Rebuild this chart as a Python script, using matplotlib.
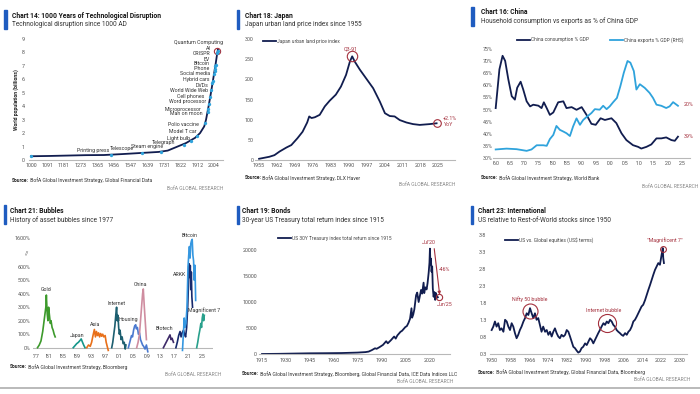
import numpy as np
import matplotlib
matplotlib.use("Agg")
import matplotlib.pyplot as plt
from matplotlib.lines import Line2D
from matplotlib.patches import Rectangle

plt.rcParams['font.family'] = ['Liberation Sans Narrow', 'Roboto', 'DejaVu Sans']

# ---------------- DATA ----------------
# Chart 14: world population (bn) and technologies
pop_years = [1000, 1100, 1200, 1300, 1400, 1500, 1600, 1700, 1750, 1800, 1850, 1900, 1927, 1950, 1960, 1974, 1987, 1999, 2011, 2022, 2025]
pop_values = [0.28, 0.30, 0.33, 0.36, 0.37, 0.44, 0.52, 0.60, 0.70, 0.98, 1.26, 1.65, 2.00, 2.50, 3.00, 4.00, 5.00, 6.00, 7.00, 8.00, 8.20]
tech_names = ['Printing press', 'Telescope', 'Steam engine', 'Telegraph', 'Light bulb', 'Model T car',
              'Polio vaccine', 'Man on moon', 'Microprocessor', 'Word processor', 'Cell phones',
              'World Wide Web', 'DVDs', 'Hybrid cars', 'Social media', 'iPhone', 'Bitcoin', 'EV',
              'CRISPR', 'AI', 'Quantum Computing']
tech_years = [1440, 1608, 1712, 1837, 1879, 1908, 1955, 1969, 1971, 1976, 1983, 1989, 1995, 1997, 2004, 2007, 2009, 2011, 2012, 2022, 2024]
tech_pop = [0.38, 0.52, 0.62, 1.15, 1.45, 1.75, 2.77, 3.60, 3.77, 4.15, 4.70, 5.20, 5.70, 5.90, 6.40, 6.60, 6.80, 7.00, 7.10, 7.95, 8.10]
c14_xticks = [1000, 1091, 1181, 1273, 1365, 1456, 1547, 1639, 1731, 1822, 1912, 2004]
c14_yticks = [0, 1, 2, 3, 4, 5, 6, 7, 8, 9]

# Chart 18: Japan urban land price index
japan_years = [1955, 1959, 1961, 1963, 1965.7, 1967.6, 1970, 1972, 1973.8, 1974.6, 1975.5, 1976.8, 1978.7, 1980.7,
               1982.6, 1985, 1987, 1989, 1990.5, 1991.4, 1992.4, 1994.4, 1997, 1999.6, 2002.2, 2004.2, 2006.1,
               2008, 2010, 2012.6, 2015.2, 2017.8, 2021.7, 2024.4]
japan_index = [3, 8, 12, 21, 31, 37, 54, 70, 93, 108, 104, 106, 112, 133, 147, 162, 182, 211, 244, 257, 244, 224,
               201, 178, 145, 116, 109, 108, 99, 93, 89, 87, 89, 91]
c18_xticks = [1955, 1962, 1969, 1976, 1983, 1990, 1997, 2004, 2011, 2018, 2025]
c18_yticks = [0, 50, 100, 150, 200, 250, 300]

# Chart 16: China consumption (LHS) and exports (RHS), % of GDP
cons_years = [1960, 1961.3, 1962.4, 1963.3, 1964.4, 1965.6, 1966.7, 1967.5, 1968.7, 1969.6, 1970.8, 1972, 1973.1,
              1974.9, 1976, 1976.8, 1977.8, 1978.9, 1980.1, 1981.8, 1983.6, 1984.7, 1986.5, 1988.2, 1990, 1991.7,
              1993.4, 1994.9, 1996.6, 1998.1, 2000.4, 2002.1, 2003.9, 2005.6, 2007.9, 2009.7, 2010.8, 2012.6,
              2014.3, 2016.1, 2017.8, 2019.5, 2021.3, 2022.5, 2023.6]
cons_pct = [50.6, 66.6, 72.2, 70.1, 62.5, 55.5, 54.1, 59.0, 61.5, 58.3, 53.4, 51.3, 52.0, 51.6, 50.6, 53.0, 50.6,
            47.8, 48.8, 53.0, 53.4, 50.6, 51.0, 49.9, 51.0, 47.8, 44.1, 43.7, 46.4, 45.7, 46.4, 44.4, 40.2, 37.4,
            35.3, 34.6, 33.9, 34.6, 35.6, 38.1, 38.1, 38.5, 37.4, 37.1, 38.8]
exp_years = [1960, 1963.8, 1967.3, 1970.8, 1972.5, 1974.3, 1976.6, 1977.8, 1978.9, 1980.1, 1981.2, 1982.4, 1983.6,
             1984.7, 1985.9, 1987, 1988.2, 1989.4, 1990.5, 1991.7, 1993.4, 1994.6, 1996.3, 1997.5, 1998.7, 1999.8,
             2001, 2002.3, 2003.5, 2004.7, 2006, 2007, 2008.2, 2009.1, 2010.3, 2012, 2013.7, 2014.9, 2016.1,
             2017.8, 2019.5, 2020.7, 2021.9, 2023.6]
exp_pct = [4.0, 4.3, 4.1, 3.5, 4.0, 5.5, 5.5, 5.3, 7.7, 9.2, 12.4, 11.0, 10.4, 9.8, 8.8, 12.2, 15.1, 12.8, 14.5,
           15.6, 17.0, 18.4, 18.2, 19.6, 18.4, 19.4, 20.9, 22.4, 26.6, 31.4, 35.6, 35.0, 32.0, 25.4, 27.3, 26.0,
           24.2, 22.4, 20.0, 19.6, 18.8, 19.4, 20.9, 19.6]
c16_xticks = [1960, 1965, 1970, 1975, 1980, 1985, 1990, 1995, 2000, 2005, 2010, 2015, 2020, 2025]
c16_xlabels = ["'60", "'65", "'70", "'75", "'80", "'85", "'90", "'95", "'00", "'05", "'10", "'15", "'20", "'25"]
c16_yticks = [30, 35, 40, 45, 50, 55, 60, 65, 70, 75]

# Chart 21: asset bubbles (% gain)
gold_years = [1977.5, 1978, 1978.5, 1979, 1979.5, 1979.9, 1980.05, 1980.3, 1980.5, 1980.7, 1980.9, 1981.2, 1981.4, 1981.7, 1982, 1982.3, 1982.6]
gold_pct = [0, 20, 50, 120, 220, 300, 390, 250, 200, 300, 250, 180, 200, 150, 130, 100, 80]
japan_b_years = [1987.8, 1988.3, 1988.8, 1989.3, 1989.8, 1990.1, 1990.4, 1990.8, 1991.2]
japan_b_pct = [0, 15, 30, 40, 55, 65, 45, 20, 0]
asia_years = [1991.7, 1992.2, 1992.7, 1993.1, 1993.5, 1993.9, 1994.2, 1994.5, 1994.8, 1995.1, 1995.4, 1995.7, 1996, 1996.3, 1996.6, 1997, 1997.3, 1997.6, 1997.9]
asia_pct = [0, 20, 10, 40, 90, 135, 80, 120, 90, 110, 80, 105, 85, 100, 80, 90, 40, 10, -20]
internet_years = [1998.9, 1999.2, 1999.5, 1999.8, 2000.1, 2000.3, 2000.5, 2000.7, 2000.9, 2001.1, 2001.3, 2001.6, 2001.9, 2002.2, 2002.5, 2002.8, 2003]
internet_pct = [0, 40, 100, 160, 250, 300, 200, 240, 150, 100, 130, 60, 80, 30, 40, -10, 20]
housing_years = [2003.7, 2004, 2004.3, 2004.6, 2004.9, 2005.2, 2005.5, 2005.8, 2006, 2006.3, 2006.6, 2006.9, 2007.2, 2007.5, 2007.8, 2008.1, 2008.5, 2008.9, 2009.3]
housing_pct = [0, 30, 60, 90, 80, 130, 160, 170, 140, 150, 100, 110, 60, 40, 20, 10, -10, 20, -30]
china_b_years = [2006.1, 2006.5, 2006.9, 2007.2, 2007.5, 2007.8, 2008, 2008.3, 2008.6, 2008.9]
china_b_pct = [0, 40, 100, 200, 300, 400, 435, 300, 180, 60]
biotech_years = [2013.8, 2014.2, 2014.6, 2015, 2015.4, 2015.7, 2016, 2016.3, 2016.7]
biotech_pct = [0, 20, 40, 60, 80, 95, 60, 70, 40]
arkk_years = [2017.4, 2017.8, 2018.2, 2018.6, 2018.9, 2019.2, 2019.6, 2019.9, 2020.2, 2020.5, 2020.8, 2021, 2021.1, 2021.25, 2021.4, 2021.55, 2021.7, 2021.85, 2022, 2022.2]
arkk_pct = [0, 40, 90, 120, 80, 110, 130, 100, 80, 150, 300, 450, 620, 700, 520, 640, 430, 560, 380, 300]
bitcoin_years = [2019.3, 2019.6, 2019.8, 2020, 2020.3, 2020.6, 2020.9, 2021.1, 2021.3, 2021.5, 2021.7, 2021.9, 2022.1, 2022.3, 2022.5, 2022.7, 2022.9, 2023.1]
bitcoin_pct = [-20, 120, 220, 150, 180, 300, 600, 1000, 1300, 900, 1400, 1500, 1550, 1000, 800, 500, 650, 350]
mag7_years = [2023.4, 2023.7, 2024, 2024.3, 2024.6, 2024.8, 2025, 2025.2, 2025.4, 2025.6]
mag7_pct = [0, 40, 90, 130, 180, 150, 220, 250, 200, 240]
bubble_names = ['Gold', 'Japan', 'Asia', 'Internet', 'Housing', 'China', 'Biotech', 'ARKK', 'Bitcoin', 'Magnificent 7']
c21_xticks = [1977, 1981, 1985, 1989, 1993, 1997, 2001, 2005, 2009, 2013, 2017, 2021, 2025]
c21_xlabels = ["'77", "'81", "'85", "'89", "'93", "'97", "'01", "'05", "'09", "'13", "'17", "'21", "'25"]
c21_yticks = [0, 100, 200, 300, 400, 500, 600, 1600]

# Chart 19: US 30Y Treasury total return index
bond_years = [1915, 1925, 1935, 1945, 1955, 1965, 1975, 1980, 1982, 1984, 1986, 1987, 1989, 1991, 1993, 1994, 1996,
              1998, 1999, 2000, 2002, 2003, 2005, 2006, 2007, 2008, 2008.9, 2009.3, 2010, 2010.7, 2011.8, 2012.5,
              2013.4, 2014.2, 2014.9, 2015.6, 2016.5, 2016.9, 2017.6, 2018.4, 2019.0, 2019.7, 2020.2, 2020.5,
              2020.8, 2021.1, 2021.5, 2021.9, 2022.3, 2022.8, 2023.3, 2023.8, 2024.3, 2024.8, 2025.45]
bond_index = [60, 90, 140, 190, 210, 240, 330, 420, 520, 800, 1150, 1050, 1400, 1800, 2500, 2100, 2700, 3400, 3000,
              3600, 4300, 4500, 5200, 5400, 6000, 6800, 8800, 7000, 7600, 8600, 11300, 11800, 10000, 11200, 12300,
              11600, 13700, 11700, 12800, 12400, 13600, 15600, 17500, 20200, 17200, 18300, 15800, 16800, 12600,
              11000, 11900, 10400, 11700, 10800, 10900]
c19_xticks = [1915, 1930, 1945, 1960, 1975, 1990, 2005, 2020]
c19_yticks = [0, 5000, 10000, 15000, 20000]

# Chart 23: US vs global equities
us_years = [1950, 1950.7, 1951.4, 1952.1, 1952.8, 1953.5, 1954.2, 1955, 1955.7, 1956.4,
            1957.1, 1957.8, 1958.5, 1959.2, 1959.9, 1960.6, 1961.3, 1962, 1962.7, 1963.5,
            1964.2, 1964.9, 1965.6, 1966.3, 1967, 1967.7, 1968.4, 1969.1, 1969.8, 1970.5,
            1971.2, 1971.9, 1972.7, 1973.4, 1974.1, 1974.8, 1975.5, 1976.2, 1976.9, 1977.6,
            1978.3, 1979, 1979.7, 1980.5, 1981.2, 1981.9, 1982.6, 1983.3, 1984, 1984.7,
            1985.4, 1986.1, 1986.8, 1987.5, 1988.2, 1988.9, 1989.7, 1990.4, 1991.1, 1991.8,
            1992.5, 1993.2, 1993.9, 1994.6, 1995.3, 1996, 1996.7, 1997.5, 1998.2, 1998.9,
            1999.6, 2000.3, 2001, 2001.7, 2002.4, 2003.1, 2003.8, 2004.5, 2005.2, 2005.9,
            2006.7, 2007.4, 2008.1, 2008.8, 2009.5, 2010.2, 2010.9, 2011.6, 2012.3, 2013,
            2013.7, 2014.4, 2015.2, 2015.9, 2016.6, 2017.3, 2018, 2018.7, 2019.4, 2020.1,
            2020.8, 2021.5, 2022.2, 2022.7, 2022.9, 2023.2]
us_rel = [1.01, 1.11, 1.26, 1.11, 1.21, 1.01, 1.06, 0.96, 1.31, 1.26,
          1.11, 1.01, 1.21, 1.11, 0.92, 0.77, 0.87, 1.01, 1.11, 1.26,
          1.36, 1.50, 1.45, 1.65, 1.50, 1.36, 1.50, 1.31, 1.36, 1.16,
          0.96, 1.11, 0.96, 1.01, 0.87, 0.96, 0.82, 0.96, 1.06, 0.92,
          0.82, 0.77, 0.87, 0.82, 0.87, 1.01, 0.96, 0.82, 0.67, 0.52,
          0.48, 0.41, 0.35, 0.38, 0.48, 0.52, 0.62, 0.57, 0.67, 0.77,
          0.72, 0.62, 0.72, 0.82, 0.92, 1.01, 1.11, 1.21, 1.16, 1.26,
          1.21, 1.31, 1.26, 1.16, 1.11, 1.01, 0.96, 0.92, 0.87, 0.84,
          0.92, 0.87, 0.96, 1.01, 1.11, 1.26, 1.31, 1.40, 1.50, 1.60,
          1.70, 1.75, 1.89, 2.04, 2.19, 2.33, 2.48, 2.63, 2.77, 2.87,
          2.97, 2.92, 3.21, 3.41, 3.12, 2.97]
c23_xticks = [1950, 1958, 1966, 1974, 1982, 1990, 1998, 2006, 2014, 2022, 2030]
c23_yticks = [0.3, 0.8, 1.3, 1.8, 2.3, 2.8, 3.3, 3.8]

# ---------------- STYLE / LAYOUT ----------------
W, H = 700, 394
NAVY = '#111d4f'
LBLUE = '#2fa3dc'
RED = '#a4303d'
TXT = '#555555'
AXC = '#b8b8b8'
BAR = '#1f5cc0'
TICK_FS = 3.9
TITLE_FS = 4.9
SUB_FS = 4.7
SRC_FS = 3.6
ANN_FS = 3.8
LEG_FS = 3.5

fig = plt.figure(figsize=(7, 3.94), dpi=100)
fig.patch.set_facecolor('white')


def fx(x):
    return x / W


def fy(y):
    return 1 - y / H


def add_ax(x0, y0, x1, y1):
    return fig.add_axes([x0 / W, 1 - y1 / H, (x1 - x0) / W, (y1 - y0) / H])


def style(ax, xpad=2.0, ypad=1.5):
    for s in ['top', 'right', 'left']:
        ax.spines[s].set_visible(False)
    ax.spines['bottom'].set_color(AXC)
    ax.spines['bottom'].set_linewidth(0.8)
    ax.tick_params(length=0, labelsize=TICK_FS, colors=TXT)
    ax.tick_params(axis='x', pad=xpad)
    ax.tick_params(axis='y', pad=ypad)
    ax.set_facecolor('none')


def header(xb, yb0, yb1, xt, yt, ys, title, sub):
    fig.patches.append(Rectangle((fx(xb), fy(yb1)), 2.6 / W, (yb1 - yb0) / H,
                                 transform=fig.transFigure, color=BAR))
    fig.text(fx(xt), fy(yt), title, fontsize=TITLE_FS, fontweight='bold', va='center', ha='left', color='#151515')
    fig.text(fx(xt), fy(ys), sub, fontsize=SUB_FS, va='center', ha='left', color='#333333')


def footer(ax, xs, ys, src, xr, yr, ha='right'):
    t = fig.text(fx(xs), fy(ys), 'Source:', fontsize=SRC_FS, fontweight='bold', va='center', ha='left', color='#222')
    ax.annotate(' ' + src, xy=(1, 0.5), xycoords=t, va='center', ha='left', fontsize=SRC_FS,
                color='#333', annotation_clip=False)
    fig.text(fx(xr), fy(yr), 'BofA GLOBAL RESEARCH', fontsize=SRC_FS, va='center', ha=ha, color='#8a8a8a')


def legend(ax, handles, labels, x, y):
    leg = ax.legend(handles, labels, loc='center left', bbox_to_anchor=(fx(x), fy(y)),
                    bbox_transform=fig.transFigure, frameon=False, fontsize=LEG_FS, handlelength=2.6,
                    handletextpad=0.3, borderpad=0, borderaxespad=0, labelcolor='#444')
    return leg


# ---------- Chart 14 ----------
ax1 = add_ax(29, 39, 223, 160)
style(ax1, xpad=2.5, ypad=3)
ax1.plot(pop_years, pop_values, color=NAVY, lw=1.3, zorder=2)
ax1.plot(tech_years, tech_pop, 'o', color=LBLUE, ms=2.4, mew=0, zorder=3)
ax1.plot([1000], [0.28], 'o', color=LBLUE, ms=2.4, mew=0, zorder=3)
ax1.set_xlim(989, 2053)
ax1.set_ylim(0, 9)
ax1.set_xticks(c14_xticks)
ax1.set_xticklabels([str(v) for v in c14_xticks])
ax1.set_yticks(c14_yticks)
ax1.set_ylabel('World population (billions)', fontsize=3.7, fontweight='bold', color='#222', labelpad=2)
label_x = [1430, 1565, 1722, 1790, 1872, 1909, 1918, 1940, 1936, 1960, 1949, 1973, 1973, 1977, 1982, 1982, 1982, 1979, 1986, 1989, 1920]
label_y = [0.67, 0.84, 1.0, 1.33, 1.62, 2.1, 2.66, 3.43, 3.78, 4.33, 4.73, 5.2, 5.57, 6.0, 6.42, 6.79, 7.2, 7.5, 7.9, 8.28, 8.76]
for name, lx, ly in zip(tech_names, label_x, label_y):
    ha = 'center' if name == 'Quantum Computing' else 'right'
    ax1.text(lx, ly, name, fontsize=ANN_FS, ha=ha, va='center', color='#333', clip_on=False)
ax1.plot([tech_years[-2]], [tech_pop[-2] + 0.15], 'o', ms=4.5, mfc='none', mec=RED, mew=0.8, clip_on=False)
header(4, 10, 29, 12, 15.7, 24.5, 'Chart 14: 1000 Years of Technological Disruption',
       'Technological disruption since 1000 AD')
footer(ax1, 12, 180, 'BofA Global Investment Strategy, Global Financial Data', 223, 188)

# ---------- Chart 18 ----------
ax2 = add_ax(255, 39, 455, 160)
style(ax2, xpad=2.5, ypad=1)
ax2.plot(japan_years, japan_index, color=NAVY, lw=1.3)
ax2.set_xlim(1953.4, 2031.6)
ax2.set_ylim(0, 300)
ax2.set_xticks(c18_xticks)
ax2.set_yticks(c18_yticks)
legend(ax2, [Line2D([], [], color=NAVY, lw=1.3)], ['Japan urban land price index'], 263, 41.7)
pk = int(np.argmax(japan_index))
ax2.plot([japan_years[pk]], [japan_index[pk]], 'o', ms=7.5, mfc='none', mec=RED, mew=0.8)
ax2.text(japan_years[pk] - 0.6, 276, 'Q3-91', fontsize=ANN_FS, color=RED, ha='center', va='center')
ax2.plot([japan_years[-1]], [japan_index[-1]], 'o', ms=5.5, mfc='none', mec=RED, mew=0.8)
ax2.text(2026.8, 104, '+2.1%', fontsize=ANN_FS, color=RED, ha='left', va='center')
ax2.text(2027.2, 88, 'YoY', fontsize=ANN_FS, color=RED, ha='left', va='center')
header(236.5, 10, 29, 244.5, 15.7, 25, 'Chart 18: Japan', 'Japan urban land price index since 1955')
footer(ax2, 244.5, 177.7, 'BofA Global Investment Strategy, DLX Haver', 455.5, 184.3)

# ---------- Chart 16 ----------
ax3 = add_ax(493, 49, 690, 158)
style(ax3, xpad=2.0, ypad=0.5)
ax3.plot(cons_years, cons_pct, color=NAVY, lw=1.3, zorder=3)
ax3.set_xlim(1959.06, 2027.8)
ax3.set_ylim(30, 75)
ax3.set_xticks(c16_xticks)
ax3.set_xticklabels(c16_xlabels)
ax3.set_yticks(c16_yticks)
ax3.set_yticklabels([f'{v}%' for v in c16_yticks])
ax3b = ax3.twinx()
ax3b.plot(exp_years, exp_pct, color=LBLUE, lw=1.3, zorder=2)
ax3b.set_ylim(0.95, 39.88)
ax3b.set_yticks([])
for s in ['top', 'right', 'left', 'bottom']:
    ax3b.spines[s].set_visible(False)
ax3.text(2025.5, cons_pct[-1], f'{round(cons_pct[-1])}%', fontsize=ANN_FS, color=RED, ha='left', va='center')
ax3b.text(2025.5, round(exp_pct[-1]), f'{round(exp_pct[-1])}%', fontsize=ANN_FS, color=RED, ha='left', va='center')
legend(ax3, [Line2D([], [], color=NAVY, lw=1.3)], ['China consumption % GDP'], 517, 40)
legend(ax3b, [Line2D([], [], color=LBLUE, lw=1.3)], ['China exports % GDP (RHS)'], 610, 40)
header(471, 6.7, 26, 481, 11.7, 20.7, 'Chart 16: China', 'Household consumption vs exports as % of China GDP')
footer(ax3, 481, 177.7, 'BofA Global Investment Strategy, World Bank', 698, 186)

# ---------- Chart 21 ----------
K = 0.2134


def fwd(v):
    v = np.asarray(v, dtype=float)
    return np.where(v <= 600, v, 600 + (v - 600) * K)


def inv(u):
    u = np.asarray(u, dtype=float)
    return np.where(u <= 600, u, 600 + (u - 600) / K)


ax4 = add_ax(33, 235, 213, 353.1)
style(ax4, xpad=0.6, ypad=2)
ax4.spines['bottom'].set_visible(False)
ax4.set_yscale('function', functions=(fwd, inv))
ax4.set_xlim(1976.2, 2028.1)
ax4.set_ylim(-40, 1700)
ax4.axhline(0, color=AXC, lw=0.8, zorder=0)
bubbles = [
    (gold_years, gold_pct, '#3d9a2c'),
    (japan_b_years, japan_b_pct, '#14968a'),
    (asia_years, asia_pct, '#e8701a'),
    (internet_years, internet_pct, '#1d5f70'),
    (housing_years, housing_pct, '#4a79cf'),
    (china_b_years, china_b_pct, '#cf8da0'),
    (biotech_years, biotech_pct, '#3e2a68'),
    (arkk_years, arkk_pct, '#17296c'),
    (bitcoin_years, bitcoin_pct, '#3597e0'),
    (mag7_years, mag7_pct, '#29a08c'),
]
for yrs, vals, col in bubbles:
    ax4.plot(yrs, vals, color=col, lw=1.2)
ax4.set_xticks(c21_xticks)
ax4.set_xticklabels(c21_xlabels)
ax4.set_yticks(c21_yticks)
ax4.set_yticklabels([f'{v}%' for v in c21_yticks])
ax4.text(1975.0, 1087, '//', fontsize=ANN_FS, color=TXT, ha='right', va='center', clip_on=False)
bl_x = [1979.9, 1989.0, 1994.1, 2000.3, 2003.7, 2007.1, 2014.0, 2018.4, 2021.5, 2025.6]
bl_y = [429, 94, 169, 330, 206, 471, 144, 540, 1678, 278]
for name, lx, ly in zip(bubble_names, bl_x, bl_y):
    ax4.text(lx, ly, name, fontsize=ANN_FS, color='#333', ha='center', va='center', clip_on=False)
header(3.5, 205, 223.7, 10, 211, 220.3, 'Chart 21: Bubbles', 'History of asset bubbles since 1977')
footer(ax4, 10, 367, 'BofA Global Investment Strategy, Bloomberg', 221.7, 374.3)

# ---------- Chart 19 ----------
ax5 = add_ax(259, 244, 450, 354.3)
style(ax5, xpad=3.0, ypad=1.5)
ax5.plot(bond_years, bond_index, color=NAVY, lw=1.3)
ax5.set_xlim(1913.1, 2033.1)
ax5.set_ylim(0, 21090)
ax5.set_xticks(c19_xticks)
ax5.set_yticks(c19_yticks)
ax5.set_yticklabels([str(v) for v in c19_yticks])
legend(ax5, [Line2D([], [], color=NAVY, lw=1.3)], ['US 30Y Treasury index total return since 1915'], 278, 238.7)
bpk = int(np.argmax(bond_index))
ax5.text(bond_years[bpk] - 0.6, 21400, "Jul'20", fontsize=ANN_FS, color=RED, ha='center', va='center', clip_on=False)
ax5.annotate('', xy=(2026.6, 11400), xytext=(2023.2, 20200),
             arrowprops=dict(arrowstyle='-|>', color=RED, lw=0.8, mutation_scale=4, shrinkA=0, shrinkB=0))
ax5.text(2029.4, 16200, '-46%', fontsize=ANN_FS, color=RED, ha='center', va='center', clip_on=False)
ax5.plot([bond_years[-1] + 0.5], [bond_index[-1]], 'o', ms=4.5, mfc='none', mec=RED, mew=0.8)
ax5.text(2029.6, 9600, "Jun'25", fontsize=ANN_FS, color=RED, ha='center', va='center', clip_on=False)
header(236.5, 206, 223.7, 242.3, 211, 220.3, 'Chart 19: Bonds', '30-year US Treasury total return index since 1915')
footer(ax5, 242.3, 373.7, 'BofA Global Investment Strategy, Bloomberg, Global Financial Data, ICE Data Indices LLC',
       453, 381.3)

# ---------- Chart 23 ----------
ax6 = add_ax(490, 234.7, 687, 354.3)
style(ax6, xpad=3.0, ypad=2.5)
ax6.plot(us_years, us_rel, color=NAVY, lw=1.3)
ax6.set_xlim(1949.3, 2033.0)
ax6.set_ylim(0.3, 3.8)
ax6.set_xticks(c23_xticks)
ax6.set_yticks(c23_yticks)
ax6.set_yticklabels([f'{v:.1f}' for v in c23_yticks])
legend(ax6, [Line2D([], [], color=NAVY, lw=1.3)], ['US vs. Global equities (US$ terms)'], 505, 239.7)
ax6.plot([1966.3], [1.58], 'o', ms=10.8, mfc='none', mec=RED, mew=0.8)
ax6.text(1966.3, 1.92, 'Nifty 50 bubble', fontsize=ANN_FS, color=RED, ha='center', va='center')
ax6.plot([1998.9], [1.21], 'o', ms=13, mfc='none', mec=RED, mew=0.8)
ax6.text(1997.4, 1.57, 'Internet bubble', fontsize=ANN_FS, color=RED, ha='center', va='center')
upk = int(np.argmax(us_rel))
ax6.plot([us_years[upk]], [us_rel[upk] - 0.03], 'o', ms=4.2, mfc='none', mec=RED, mew=0.8)
ax6.text(2023.6, 3.64, '"Magnificent 7"', fontsize=ANN_FS, color=RED, ha='center', va='center')
header(470.5, 206, 223.7, 477.7, 211, 220.3, 'Chart 23: International', 'US relative to Rest-of-World stocks since 1950')
footer(ax6, 477.7, 372, 'BofA Global Investment Strategy, Global Financial Data, Bloomberg', 690, 379.7)

# torn paper edge at the bottom
fig.add_artist(Line2D([0, 1], [fy(387.5), fy(387.5)], transform=fig.transFigure, color='#9a9a9a', lw=1.2, alpha=0.8))

fig.savefig('out.png', dpi=100, facecolor='white')
